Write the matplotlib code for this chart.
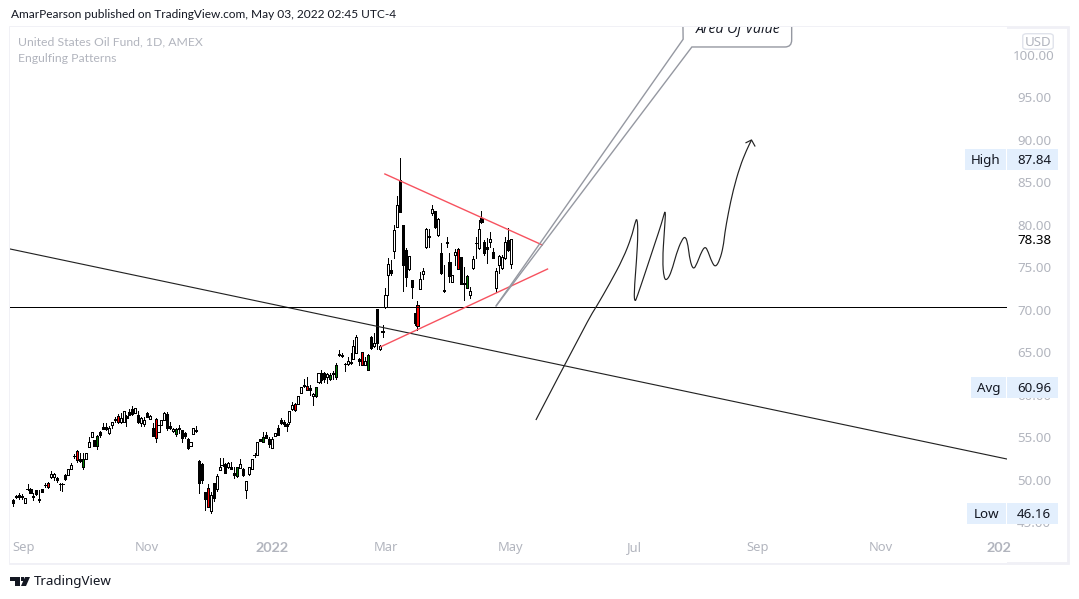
import matplotlib
matplotlib.use("Agg")
import matplotlib.pyplot as plt
from matplotlib.patches import FancyBboxPatch, Polygon, Rectangle
from matplotlib.path import Path
from matplotlib.patches import PathPatch

plt.rcParams['font.family'] = ['Noto Sans', 'DejaVu Sans']

opens = [47.65,48.12,48.2,48.12,47.26,48.99,48.95,48.12,48.79,47.73,48.95,49.46,49.69,50.32,50.36,50.24,49.54,49.54,50.59,50.63,51.26,52.87,53.38,52.44,51.57,52.48,53.93,55.10,54.71,54.0,55.61,56.28,56.24,55.53,56.51,57.14,57.57,56.79,56.87,57.49,58.0,58.39,57.92,57.65,56.75,56.63,57.85,57.22,56.08,57.22,55.61,56.51,57.06,57.81,56.36,55.73,55.38,56.08,55.85,55.49,54.83,53.97,55.38,55.89,52.28,51.89,48.59,49.03,46.36,49.61,48.99,51.22,51.8,51.89,51.5,51.53,50.79,50.51,51.46,51.26,48.87,50.71,51.34,52.95,52.91,54.87,54.44,55.3,54.83,53.81,55.22,56.08,57.06,56.79,56.55,56.87,58.32,58.91,58.98,60.24,61.18,61.1,60.79,59.85,59.85,61.57,62.55,62.55,62.08,61.84,62.63,62.08,64.82,64.67,63.65,63.65,63.84,64.27,64.9,64.2,65.02,63.57,62.98,66.87,65.77,70.16,65.46,67.48,70.32,74.08,74.71,76.9,79.8,85.29,80.0,77.06,74.79,73.53,69.61,70.55,72.51,74.2,77.37,78.65,81.37,81.65,78.78,76.75,72.3,77.98,75.69,73.26,76.43,77.18,76.2,73.14,72.63,71.73,74.9,77.9,77.26,80.82,78.0,77.45,78.04,76.86,72.55,75.3,74.94,76.16,78.24,75.37]
highs = [47.73,48.24,48.52,48.36,47.85,49.54,49.03,48.44,48.83,48.83,48.95,49.61,49.73,51.02,50.79,50.40,49.69,49.61,50.72,51.30,51.95,53.06,53.53,53.14,53.14,53.14,55.02,55.61,54.71,55.3,55.81,56.67,56.67,56.36,56.79,57.38,57.77,57.85,58.08,57.65,58.32,58.71,58.43,58.12,57.38,57.38,57.96,57.61,56.67,57.34,56.47,57.06,58.0,57.96,56.87,56.08,56.08,56.47,55.89,55.65,54.9,54.47,56.08,56.36,52.36,51.97,48.63,49.54,48.6,49.61,50.67,52.55,52.55,51.97,52.08,52.08,51.5,51.57,52.44,51.42,49.85,51.57,52.44,53.14,54.47,54.87,55.61,55.61,55.1,55.1,55.49,56.47,57.26,57.06,56.67,58.16,59.14,59.02,59.88,60.94,61.84,62.08,61.18,60.2,60.98,62.55,62.94,62.75,62.55,62.55,62.86,63.73,65.29,64.98,63.8,64.51,64.98,66.47,67.1,64.31,65.02,64.51,64.78,66.95,67.26,70.16,65.89,68.24,72.55,76.16,75.88,80.0,83.41,87.84,80.0,77.26,76.35,73.53,69.61,71.06,74.51,74.9,79.6,79.49,82.35,81.69,80.78,77.84,75.3,78.63,76.67,74.08,77.18,77.3,76.28,75.1,74.12,72.75,76.35,78.55,80.59,81.61,78.24,78.43,79.2,77.26,74.9,76.47,76.47,78.63,79.61,78.38]
lows = [46.99,47.85,47.81,47.81,47.26,48.83,48.44,47.65,48.24,47.46,48.63,49.22,49.10,50.28,50.0,49.81,48.83,48.75,50.0,50.63,51.26,52.55,52.16,52.16,51.3,52.48,53.93,55.10,54.04,53.69,55.1,55.96,55.89,55.42,56.12,56.83,56.75,56.75,56.87,56.36,57.61,57.69,57.92,56.75,56.40,56.36,57.41,57.14,55.18,54.51,55.61,56.51,57.06,55.89,55.96,55.65,55.22,55.57,54.51,54.9,53.61,53.97,55.38,55.65,48.52,49.61,46.48,46.87,46.16,47.54,48.75,51.22,51.65,50.87,51.38,51.26,50.24,50.32,51.38,50.48,47.93,50.63,51.34,52.75,52.91,54.55,54.44,54.98,53.93,53.81,55.22,55.3,56.59,56.36,55.81,56.55,58.24,58.16,58.98,60.24,60.98,60.55,60.0,58.87,59.81,61.45,61.37,61.57,61.37,61.77,61.92,61.92,64.59,64.51,62.86,63.53,63.6,64.2,64.9,63.53,63.49,63.49,62.94,65.38,65.69,65.38,65.3,66.87,70.2,71.77,74.12,76.16,79.73,81.57,72.28,72.83,74.7,71.45,68.24,67.65,72.43,73.61,77.34,77.37,81.18,79.61,78.71,74.24,72.1,77.37,73.34,73.26,75.3,74.79,73.02,71.18,72.55,71.38,74.83,76.1,77.18,80.2,76.47,75.57,77.45,76.16,72.16,74.3,74.86,76.04,76.98,74.9]
closes = [47.26,47.97,48.05,47.97,47.85,48.91,48.52,47.97,48.40,47.65,48.63,49.38,49.18,50.71,50.67,50.0,49.50,49.50,50.12,51.30,51.81,52.79,52.36,52.2,52.44,53.14,54.47,55.61,54.04,55.22,55.3,56.0,56.04,56.08,56.79,57.02,56.87,57.34,58.08,57.34,57.69,57.77,58.43,56.79,57.34,57.02,57.45,57.49,55.22,54.9,56.47,57.06,57.88,56.16,56.16,55.96,55.96,55.96,54.9,55.18,53.73,54.47,56.08,55.73,49.61,50.0,47.81,46.87,48.2,47.93,50.48,51.53,51.77,50.87,52.0,51.34,50.63,51.5,51.85,50.63,49.85,51.5,52.44,52.91,54.47,54.55,55.02,54.98,54.24,54.79,55.49,55.34,56.71,56.55,56.36,58.08,58.79,58.2,59.88,60.94,61.02,60.55,60.63,60.08,60.9,62.55,61.77,61.84,62.43,62.35,62.43,63.49,64.67,64.55,63.61,64.04,63.8,65.76,66.86,64.04,63.49,64.04,64.67,65.5,66.16,66.08,65.77,67.44,71.77,75.37,74.32,79.41,82.35,81.57,75.3,73.92,76.35,72.75,68.51,68.16,73.61,74.59,79.53,78.61,81.84,79.73,80.71,74.39,72.2,77.94,74.04,74.08,76.79,74.79,73.06,73.1,74.04,72.24,76.0,77.85,79.49,80.31,76.75,77.14,78.31,76.16,74.55,76.39,76.27,78.0,77.06,78.38]
bearish_engulfing = [12,22,36,49,67,97,101,120,139,153]
bullish_engulfing = [24,29,56,77,86,104,109,111,122,156]

price_ticks = [100,95,90,85,80,75,70,65,60,55,50,45]
month_labels = ['Sep','Nov','2022','Mar','May','Jul','Sep','Nov','202']
month_bars = [3.8,46,89,128,171,213.6,256,298.3,339]

last_price, high_price, avg_price, low_price = 78.38, 87.84, 60.96, 46.16

# hand-drawn objects on the chart, as (bar, price)
trend_bars, trend_prices = [-1.03,341.6], [77.18,52.47]
level_price = 70.35
wedge_top_bars, wedge_top_prices = [127.8,181.9], [86.0,77.65]
wedge_low_bars, wedge_low_prices = [126.4,183.7], [65.68,74.82]
brush_bars = [179.7,197.7,200.5,205.1,209.7,212.6,213.7,214.5,214.8,214.3,213.4,213.7,214.5,217.2,220.6,222.9,224.4,223.8,223.2,223.7,224.8,226.3,228.0,229.8,231.1,232.0,232.6,233.8,235.1,236.6,237.9,238.9,240.1,241.4,242.9,244.1,244.6,245.8,247.5,249.8,252.1,253.8]
brush_prices = [57.06,68.9,70.39,73.13,76.07,78.62,80.19,80.9,79.02,75.88,71.96,70.9,71.57,74.31,77.84,80.19,82.1,79.02,75.88,73.7,73.5,74.51,76.66,78.23,78.7,77.64,75.88,74.7,75.49,76.86,77.5,76.86,75.68,75.0,75.88,77.45,79.02,81.37,84.11,86.86,88.82,90.0]
arrow_bars, arrow_prices = [251.9,253.8,254.96], [89.68,90.0,89.29]

W, H = 1079, 599
GREY = '#b2b5be'
FRAME = '#f0f0f6'
BOX = '#e3effd'
LINE = '#9598a1'
THIN = 0.72

fig = plt.figure(figsize=(W/100, H/100), dpi=100, facecolor='white')
L, T, R, B = 10, 27, 1007, 563
ax = fig.add_axes([L/W, 1-B/H, (R-L)/W, (B-T)/H])
ax.set_xlim(-1.03, 341.6)
ax.set_ylim(40.24, 103.29)
for s in ax.spines.values():
    s.set_visible(False)
ax.set_xticks([]); ax.set_yticks([])

for i, (o, h, l, c) in enumerate(zip(opens, highs, lows, closes)):
    ax.plot([i, i], [l, h], color='black', lw=THIN, solid_capstyle='butt', zorder=2, antialiased=False)
    if i in bearish_engulfing:
        fc = '#ff0000'
    elif i in bullish_engulfing:
        fc = '#008000'
    else:
        fc = 'white' if c >= o else 'black'
    ax.add_patch(Rectangle((i-0.36, min(o, c)), 0.72, abs(c-o), facecolor=fc, edgecolor='black', lw=THIN, zorder=3, antialiased=False, snap=True))

ax.plot(trend_bars, trend_prices, color='#222222', lw=THIN+0.1, zorder=4)
ax.axhline(level_price, color='black', lw=THIN, zorder=4)
ax.plot(wedge_top_bars, wedge_top_prices, color='#f7525f', lw=1.0, zorder=5)
ax.plot(wedge_low_bars, wedge_low_prices, color='#f7525f', lw=1.0, zorder=5)

# freehand curve: a quadratic path with the read points as its controls
pts = list(zip(brush_bars, brush_prices))
verts, codes_b = [pts[0]], [Path.MOVETO]
for a, b in zip(pts[1:-1], pts[2:]):
    verts += [a, ((a[0]+b[0])/2, (a[1]+b[1])/2)]
    codes_b += [Path.CURVE3, Path.CURVE3]
verts.append(pts[-1]); codes_b.append(Path.LINETO)
ax.add_patch(PathPatch(Path(verts, codes_b), fill=False, edgecolor='#222222', lw=0.85, zorder=5))
ax.plot(arrow_bars, arrow_prices, color='#222222', lw=0.85, zorder=5)

# callout with its pointer
callout_verts = [(166.0,70.47),(230.3,101.85),(230.2,104.2)]
callout_verts2 = [(166.0,70.47),(233.3,100.94),(265.3,100.94),(267.6,100.94),(267.6,101.76),(267.6,104.2)]
ax.plot(*zip(*callout_verts), color=LINE, lw=1.0, zorder=5)
codes = [Path.MOVETO, Path.LINETO, Path.LINETO, Path.CURVE3, Path.CURVE3, Path.LINETO]
ax.add_patch(PathPatch(Path(callout_verts2, codes), fill=False, edgecolor=LINE, lw=1.0, zorder=5))
ax.text(249.3, 102.95, 'Area Of Value', style='italic', family='Open Sans', fontsize=10.2, color='#131722', ha='center', va='center', clip_on=True, zorder=6)

def tx(x, y, s, **kw):
    kw.setdefault('va', 'center')
    kw.setdefault('fontsize', 9.3)
    return fig.text(x/W, 1-y/H, s, **kw)

def px_rect(x0, y0, x1, y1, **kw):
    fig.add_artist(Rectangle((x0/W, 1-y1/H), (x1-x0)/W, (y1-y0)/H, transform=fig.transFigure, **kw))

# pane frame
px_rect(L, T, 1068, B, fill=False, edgecolor=FRAME, lw=2, zorder=0)

# price axis
def y_px(p):
    return T + (103.29-p)/(103.29-40.24)*(B-T)
def x_px(b):
    return L + (b+1.03)/(341.6+1.03)*(R-L)

OFF = 1.3
for p in price_ticks:
    tx(1034, y_px(p)+OFF, f'{p:.2f}', color=GREY, ha='center', zorder=1, fontsize=9.6)
tx(1034, y_px(last_price)+OFF, f'{last_price:.2f}', color='black', ha='center', zorder=3, fontsize=9.6)

for name, val, left in [('High', high_price, 965), ('Avg', avg_price, 971), ('Low', low_price, 967)]:
    yc = {'High':159.5,'Avg':387.5,'Low':513.5}[name]
    fig.add_artist(FancyBboxPatch((left/W, 1-(yc+10.5)/H), (1006-left)/W, 21/H, boxstyle='square,pad=0', transform=fig.transFigure, facecolor=BOX, edgecolor='none', zorder=2))
    fig.add_artist(FancyBboxPatch((1007/W, 1-(yc+10.5)/H), 51/W, 21/H, boxstyle='square,pad=0', transform=fig.transFigure, facecolor=BOX, edgecolor='none', zorder=2))
    tx((left+1006)/2, yc+0.8, name, color='#131722', ha='center', zorder=3, fontsize=9.6)
    tx(1034, yc+0.8, f'{val:.2f}', color='#131722', ha='center', zorder=3, fontsize=9.6)

# currency badge
fig.add_artist(FancyBboxPatch((1026/W, 1-47.5/H), 24/W, 12/H, boxstyle='round,pad=0.003,rounding_size=0.004', transform=fig.transFigure, facecolor='white', edgecolor='#e0e3eb', lw=1, zorder=2))
tx(1038, 43, 'USD', color=GREY, ha='center', zorder=3, fontsize=9.6)

# time axis
for b, lab in zip(month_bars, month_labels):
    bold = lab in ('2022', '202')
    tx(x_px(b), 547.5, lab, color=GREY, ha='center', family='Lato' if bold else 'Noto Sans', fontweight='bold' if bold else 'normal', fontsize=10.4 if bold else 9.3)

# header, legend, footer
tx(11, 15, 'AmarPearson published on TradingView.com, May 03, 2022 02:45 UTC-4', color='#131722', ha='left', family='Lato', fontsize=8.6)
tx(18, 42, 'United States Oil Fund, 1D, AMEX', color=GREY, ha='left', family='Lato', fontsize=8.8)
tx(18, 59, 'Engulfing Patterns', color=GREY, ha='left', family='Lato', fontsize=8.8)
tx(34, 581, 'TradingView', color='#131722', ha='left', fontsize=9.6)

def poly(pts):
    fig.add_artist(Polygon([(x/W, 1-y/H) for x, y in pts], closed=True, transform=fig.transFigure, facecolor='#131722', edgecolor='none'))
poly([(10,577),(19.5,577),(19.5,586),(15,586),(15,581),(10,581)])
poly([(25,577),(30,577),(26,586),(21,586)])
poly([(20.5,577),(23.5,577),(23.5,580.5),(20.5,580.5)])

fig.savefig('out.png', dpi=100, facecolor='white')
